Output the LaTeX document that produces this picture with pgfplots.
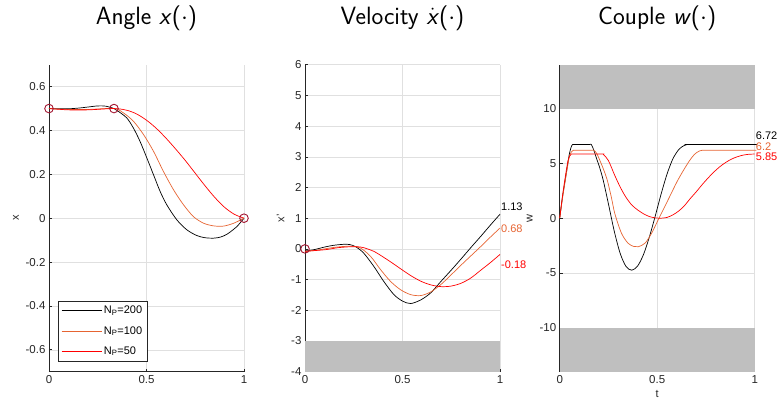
\documentclass[border=0pt]{standalone}
\usepackage{fontspec}
\setmainfont{Liberation Sans}
\usepackage{pgfplots}
\pgfplotsset{compat=1.18}

\definecolor{morange}{RGB}{230,100,50}
\definecolor{mred}{RGB}{255,0,0}
\definecolor{mmark}{RGB}{162,20,47}
\definecolor{shade}{RGB}{191,191,191}
\definecolor{axgray}{RGB}{38,38,38}

\pgfplotsset{
  panel/.style={
    scale only axis, width=195pt, height=307pt,
    xmin=0, xmax=1, xtick={0,0.5,1},
    axis x line*=bottom, axis y line*=left,
    axis line style={axgray, line width=0.7pt, -},
    tick align=inside, major tick length=3pt,
    tick style={axgray, line width=0.6pt},
    grid=major, grid style={black!12, line width=0.5pt},
    /pgf/number format/assume math mode=true,
    tick label style={font=\fontsize{11.5}{13}\selectfont, text=axgray},
    label style={font=\fontsize{11}{13}\selectfont, text=axgray},
    title style={font=\sffamily\fontsize{25}{28}\selectfont, anchor=base, at={(0.5,1)}, yshift=34pt},
    clip=false,
  },
  crv/.style={line width=0.7pt, smooth},
}

\begin{document}
\begin{tikzpicture}
\useasboundingbox (-49pt,-35.3pt) rectangle (728pt,371.7pt);

% ---- Angle
\begin{axis}[panel, at={(0pt,0pt)}, anchor=south west,
  ymin=-0.7, ymax=0.7, ytick={-0.6,-0.4,-0.2,0,0.2,0.4,0.6},
  ylabel={x},
  title={Angle \textit{x}(\(\cdot\))},
  legend style={at={(0.046,0.035)}, anchor=south west, draw=axgray, fill=white,
    font=\fontsize{11}{13}\selectfont, row sep=7pt, inner sep=3pt},
  legend cell align={left},
  legend image code/.code={\draw[#1] (0pt,0pt) -- (40pt,0pt);},
]
\addplot[crv, black] coordinates {
 (0,0.5) (0.05,0.499) (0.1,0.499) (0.15,0.502) (0.2,0.507) (0.25,0.512) (0.29,0.511)
 (0.3333,0.5) (0.356,0.487) (0.399,0.457) (0.433,0.411) (0.467,0.350) (0.502,0.274)
 (0.536,0.198) (0.570,0.122) (0.604,0.061) (0.656,-0.008) (0.707,-0.053) (0.758,-0.079)
 (0.80,-0.089) (0.844,-0.091) (0.88,-0.086) (0.913,-0.073) (0.945,-0.052) (0.964,-0.038) (1,0)
};
\addlegendentry{N\textsubscript{P}=200}
\addplot[crv, morange] coordinates {
 (0,0.5) (0.1,0.496) (0.2,0.496) (0.3333,0.5) (0.382,0.480) (0.433,0.442) (0.485,0.381)
 (0.536,0.305) (0.587,0.213) (0.639,0.129) (0.690,0.061) (0.741,0.007) (0.793,-0.023)
 (0.844,-0.035) (0.895,-0.036) (0.947,-0.023) (1,0)
};
\addlegendentry{N\textsubscript{P}=100}
\addplot[crv, mred] coordinates {
 (0,0.5) (0.1,0.494) (0.2,0.494) (0.3333,0.5) (0.4,0.492) (0.45,0.475) (0.5,0.447)
 (0.55,0.41) (0.6,0.365) (0.65,0.315) (0.7,0.262) (0.75,0.205) (0.8,0.148)
 (0.85,0.095) (0.9,0.05) (0.95,0.018) (1,0)
};
\addlegendentry{N\textsubscript{P}=50}
\addplot[only marks, mark=o, mark size=4.3pt, mmark, line width=0.9pt, forget plot]
 coordinates {(0,0.5) (0.3333,0.5) (1,0)};
\end{axis}

% ---- Velocity
\begin{axis}[panel, at={(256pt,0pt)}, anchor=south west,
  ymin=-4, ymax=6, ytick={-4,-3,...,6},
  ylabel={x'},
  title={Velocity \(\dot{\mbox{\textit{x}}}\)(\(\cdot\))},
]
\addplot[fill=shade, draw=none] coordinates {(0,-4) (1,-4) (1,-3) (0,-3)} -- cycle;
\addplot[crv, black] coordinates {
 (0,-0.07) (0.05,-0.02) (0.1,0.06) (0.15,0.12) (0.2,0.15) (0.23,0.14) (0.26,0.07)
 (0.3,-0.13) (0.353,-0.57) (0.404,-1.06) (0.456,-1.49) (0.5,-1.7) (0.542,-1.78)
 (0.594,-1.66) (0.645,-1.43) (0.697,-1.06) (0.75,-0.69) (0.8,-0.33) (0.85,0.04)
 (0.9,0.40) (0.95,0.77) (1,1.13)
};
\addplot[crv, morange] coordinates {
 (0,-0.08) (0.05,-0.05) (0.1,0.0) (0.15,0.05) (0.2,0.08) (0.24,0.09) (0.284,0.03)
 (0.336,-0.24) (0.387,-0.67) (0.439,-1.06) (0.49,-1.33) (0.542,-1.49) (0.594,-1.52)
 (0.645,-1.40) (0.697,-1.16) (0.75,-0.84) (0.8,-0.53) (0.85,-0.23) (0.9,0.07)
 (0.95,0.38) (1,0.68)
};
\addplot[crv, mred] coordinates {
 (0,-0.08) (0.06,-0.05) (0.112,-0.02) (0.17,0.04) (0.232,0.07) (0.27,0.07) (0.301,0.04)
 (0.353,-0.08) (0.4,-0.26) (0.45,-0.47) (0.5,-0.69) (0.55,-0.9) (0.6,-1.07)
 (0.65,-1.18) (0.7,-1.23) (0.75,-1.21) (0.8,-1.12) (0.85,-0.95) (0.9,-0.7)
 (0.95,-0.45) (1,-0.18)
};
\addplot[only marks, mark=o, mark size=4.3pt, mmark, line width=0.9pt]
 coordinates {(0,0)};
\node[anchor=west, inner sep=1pt, font=\fontsize{11}{13}\selectfont, text=black] at (axis cs:1,1.39) {1.13};
\node[anchor=west, inner sep=1pt, font=\fontsize{11}{13}\selectfont, text=morange] at (axis cs:1,0.65) {0.68};
\node[anchor=west, inner sep=1pt, font=\fontsize{11}{13}\selectfont, text=mred] at (axis cs:1,-0.51) {-0.18};
\end{axis}

% ---- Couple
\begin{axis}[panel, at={(510.7pt,0pt)}, anchor=south west,
  ymin=-14, ymax=14, ytick={-10,-5,0,5,10},
  ylabel={w}, xlabel={t},
  title={Couple \textit{w}(\(\cdot\))},
]
\addplot[fill=shade, draw=none] coordinates {(0,10) (1,10) (1,14) (0,14)} -- cycle;
\addplot[fill=shade, draw=none] coordinates {(0,-14) (1,-14) (1,-10) (0,-10)} -- cycle;
\addplot[crv, black] coordinates {
 (0,0) (0.015,2.0) (0.032,3.9) (0.048,5.7) (0.058,6.45) (0.066,6.72) (0.075,6.72)
 (0.152,6.72) (0.162,6.72) (0.175,6.2) (0.19,5.4) (0.207,4.5) (0.224,3.4) (0.25,1.3)
 (0.28,-1.2) (0.31,-3.2) (0.34,-4.4) (0.37,-4.74) (0.40,-4.35) (0.43,-3.3) (0.46,-1.7)
 (0.49,0.2) (0.52,2.2) (0.55,4.0) (0.58,5.4) (0.61,6.25) (0.635,6.6) (0.655,6.72)
 (0.665,6.72) (0.99,6.72) (1,6.72)
};
\addplot[crv, morange] coordinates {
 (0,0) (0.015,1.9) (0.03,3.6) (0.048,5.5) (0.06,6.05) (0.07,6.2) (0.08,6.2)
 (0.165,6.2) (0.175,6.2) (0.19,5.9) (0.21,5.1) (0.228,4.3) (0.245,3.4) (0.265,1.9)
 (0.283,0.4) (0.317,-1.38) (0.351,-2.29) (0.38,-2.58) (0.403,-2.6) (0.437,-2.29)
 (0.471,-1.38) (0.505,-0.15) (0.556,1.68) (0.607,3.51) (0.658,5.04) (0.69,5.8)
 (0.715,6.12) (0.735,6.2) (0.745,6.2) (0.99,6.2) (1,6.2)
};
\addplot[crv, mred] coordinates {
 (0,0) (0.014,2.0) (0.028,3.7) (0.042,5.2) (0.052,5.7) (0.06,5.85) (0.07,5.85)
 (0.215,5.85) (0.225,5.8) (0.25,5.25) (0.28,4.0) (0.31,2.85) (0.34,1.9) (0.37,1.2)
 (0.40,0.75) (0.43,0.4) (0.46,0.15) (0.49,0.03) (0.52,0.0) (0.55,0.07) (0.58,0.3)
 (0.61,0.65) (0.64,1.15) (0.67,1.8) (0.70,2.4) (0.73,3.05) (0.76,3.65) (0.79,4.2)
 (0.82,4.68) (0.85,5.07) (0.88,5.38) (0.91,5.6) (0.94,5.75) (0.97,5.83) (1,5.85)
};
\node[anchor=west, inner sep=1pt, font=\fontsize{11}{13}\selectfont, text=black] at (axis cs:1,7.49) {6.72};
\node[anchor=west, inner sep=1pt, font=\fontsize{11}{13}\selectfont, text=morange] at (axis cs:1,6.54) {6.2};
\node[anchor=west, inner sep=1pt, font=\fontsize{11}{13}\selectfont, text=mred] at (axis cs:1,5.65) {5.85};
\end{axis}
\end{tikzpicture}
\end{document}
